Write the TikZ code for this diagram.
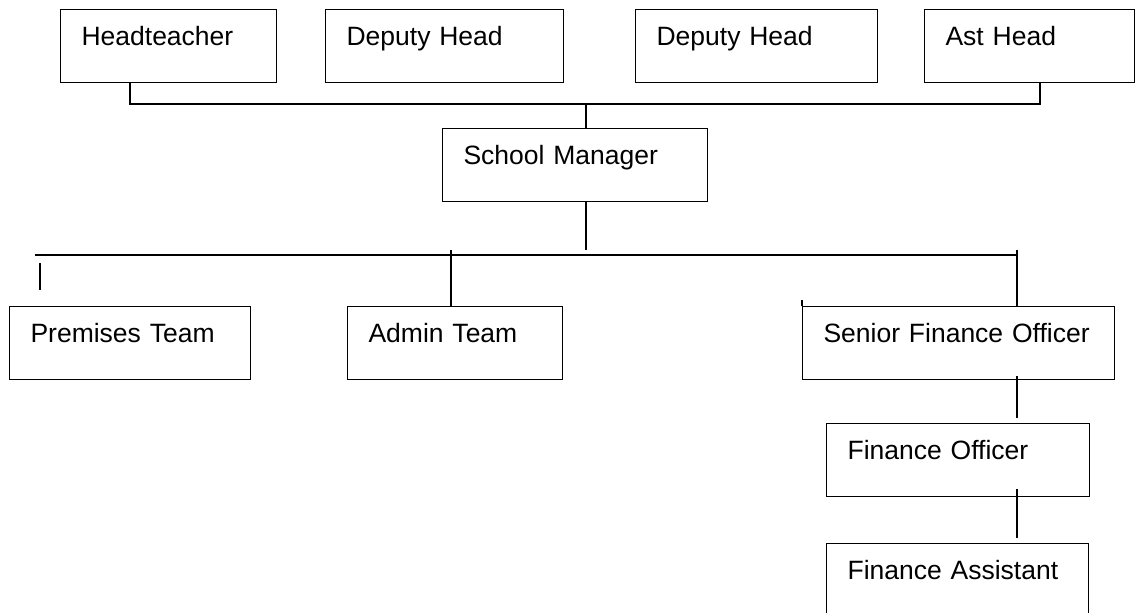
\documentclass[tikz,border=0pt]{standalone}
\usepackage{fontspec}
\setmainfont{Liberation Sans}
\usetikzlibrary{positioning,calc}

\begin{document}
\begin{tikzpicture}
[x=0.5pt, y=-0.5pt, font=\fontsize{13.25}{15}\selectfont, line width=0.75pt,
unit/.style={rectangle, draw, line width=0.55pt, anchor=north west, inner xsep=10.5pt, inner ysep=0pt, text height=18pt, text depth=18.5pt, align=left, text width=#1},
link/.style={draw, line width=0.75pt}]

\useasboundingbox (0,0) rectangle (1135,612);

% leadership row
\foreach \n/\x/\w/\t in {head/60/87/Headteacher, depa/325/98/Deputy Head, depb/635/100/Deputy Head, ast/924/84/Ast Head} {
  \node[unit=\w pt] (\n) at (\x,9) {\t};
}

\node[unit=111.5pt] (sm) at (442,128) {School Manager};

\node[unit=99.5pt] (prem) at (9,306) {Premises Team};
\node[unit=86.5pt] (admin) at (347,306) {Admin Team};
\node[unit=135pt] (sfo) at (802,306) {Senior Finance Officer};
\node[unit=110.5pt] (fo) at (826,423) {Finance Officer};
\node[unit=110pt] (fa) at (826,543) {Finance Assistant};

% bus lines
\coordinate (tbl) at (130,104);
\coordinate (tbr) at (1040,104);
\coordinate (smup) at (586,104);
\coordinate (smdown) at (586,250);
\coordinate (lbl) at (35,255);
\coordinate (lbr) at (1017,255);
\coordinate (pretop) at (40,263);
\coordinate (prebot) at (40,290);
\coordinate (adtop) at (451,250);
\coordinate (fintop) at (1017,250);
\coordinate (sfobot) at (1017,376);
\coordinate (fobot) at (1017,489);

\draw[link] (head.south -| tbl) -- (tbl) -- (tbr) -- (ast.south -| tbr);
\draw[link] (smup) -- (smup |- sm.north);
\draw[link] (sm.south -| smdown) -- (smdown);
\draw[link] (lbl) -- (lbr);
\draw[link] (pretop) -- (prebot);
\draw[link] (adtop) -- (adtop |- admin.north);
\draw[link] (fintop) -- (fintop |- sfo.north);
\draw[line width=0.55pt] (sfo.north west) -- ++(0,-6);
\draw[link] (sfobot) -- ($(sfobot |- fo.north)+(0,-5)$);
\draw[link] (fobot) -- ($(fobot |- fa.north)+(0,-5)$);

\end{tikzpicture}
\end{document}
